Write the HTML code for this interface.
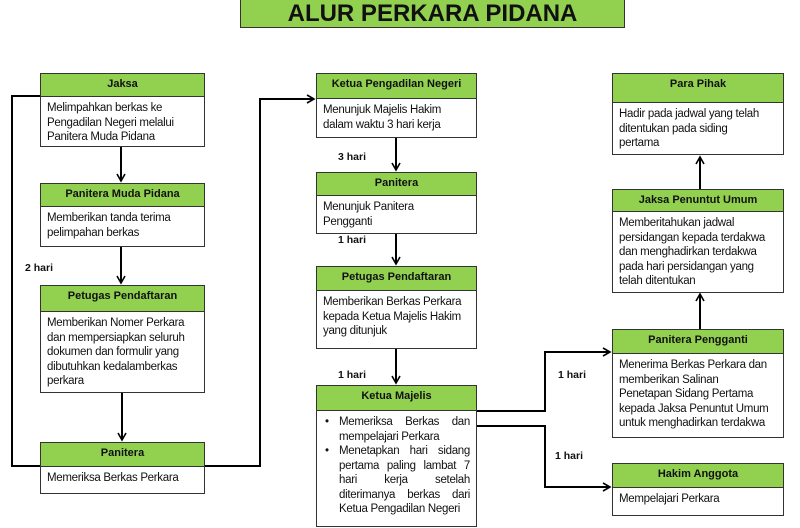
<!DOCTYPE html>
<html><head><meta charset="utf-8"><style>
*{margin:0;padding:0;box-sizing:border-box}
body{width:800px;height:528px;background:#fff;position:relative;overflow:hidden;font-family:"Liberation Sans",Arial,sans-serif;color:#111}
.b{position:absolute;border:1.5px solid #333;background:#fff}
.h{background:#92d050;border-bottom:1.5px solid #333;font-weight:bold;font-size:11px;text-align:center;padding-top:4px}
.t{font-size:11.5px;line-height:14.5px;padding:4px 6px;letter-spacing:-0.3px}
.n{white-space:nowrap}
.l{position:absolute;font-size:10.5px;font-weight:bold}
ul{list-style:none}
li{position:relative;padding-left:16px;text-align:justify}
li:before{content:"•";position:absolute;left:2px}
</style></head><body>
<div style="position:absolute;left:240px;top:-2px;width:385px;height:30px;background:#92d050;border:1.5px solid #333;text-align:center;font-weight:bold;font-size:24px;line-height:30px">ALUR PERKARA PIDANA</div>

<svg width="800" height="528" style="position:absolute;left:0;top:0">
<defs><marker id="a" markerWidth="10" markerHeight="10" refX="8" refY="5" orient="auto" markerUnits="userSpaceOnUse"><path d="M1,1 L8,5 L1,9" fill="none" stroke="#000" stroke-width="1.6"/></marker></defs>
<g stroke="#000" stroke-width="2" fill="none">
<path d="M40,96 H12 V466 H260 V99 H314" marker-end="url(#a)"/>
<path d="M121,146 V181" marker-end="url(#a)"/>
<path d="M121,246 V283" marker-end="url(#a)"/>
<path d="M122,392 V440" marker-end="url(#a)"/>
<path d="M396,137 V170" marker-end="url(#a)"/>
<path d="M396,233 V264" marker-end="url(#a)"/>
<path d="M396,348 V383" marker-end="url(#a)"/>
<path d="M476,411 H545 V352 H610" marker-end="url(#a)"/>
<path d="M476,426 H545 V487 H610" marker-end="url(#a)"/>
<path d="M700,329 V294" marker-end="url(#a)"/>
<path d="M700,189 V157" marker-end="url(#a)"/>
</g></svg>

<div class="b" style="left:40px;top:73px;width:165px;height:74px"><div class="h" style="height:23px">Jaksa</div><div class="t n">Melimpahkan berkas ke<br>Pengadilan Negeri melalui<br>Panitera Muda Pidana</div></div>
<div class="b" style="left:40px;top:183px;width:165px;height:64px"><div class="h" style="height:23px">Panitera Muda Pidana</div><div class="t n">Memberikan tanda terima<br>pelimpahan berkas</div></div>
<div class="b" style="left:40px;top:285px;width:165px;height:108px"><div class="h" style="height:26px">Petugas Pendaftaran</div><div class="t n">Memberikan Nomer Perkara<br>dan mempersiapkan seluruh<br>dokumen dan formulir yang<br>dibutuhkan kedalamberkas<br>perkara</div></div>
<div class="b" style="left:40px;top:442px;width:165px;height:52px"><div class="h" style="height:24px">Panitera</div><div class="t n">Memeriksa Berkas Perkara</div></div>

<div class="b" style="left:316px;top:73px;width:161px;height:65px"><div class="h" style="height:25px">Ketua Pengadilan Negeri</div><div class="t n">Menunjuk Majelis Hakim<br>dalam waktu 3 hari kerja</div></div>
<div class="b" style="left:316px;top:172px;width:161px;height:62px"><div class="h" style="height:23px">Panitera</div><div class="t n">Menunjuk Panitera<br>Pengganti</div></div>
<div class="b" style="left:316px;top:266px;width:161px;height:83px"><div class="h" style="height:24px">Petugas Pendaftaran</div><div class="t n">Memberikan Berkas Perkara<br>kepada Ketua Majelis Hakim<br>yang ditunjuk</div></div>
<div class="b" style="left:316px;top:385px;width:161px;height:142px"><div class="h" style="height:25px">Ketua Majelis</div><div class="t"><ul><li>Memeriksa Berkas dan mempelajari Perkara</li><li>Menetapkan hari sidang pertama paling lambat 7 hari kerja setelah diterimanya berkas dari Ketua Pengadilan Negeri</li></ul></div></div>

<div class="b" style="left:612px;top:73px;width:172px;height:82px"><div class="h" style="height:29px">Para Pihak</div><div class="t n">Hadir pada jadwal yang telah<br>ditentukan pada siding<br>pertama</div></div>
<div class="b" style="left:612px;top:189px;width:172px;height:104px"><div class="h" style="height:22px">Jaksa Penuntut Umum</div><div class="t n">Memberitahukan jadwal<br>persidangan kepada terdakwa<br>dan menghadirkan terdakwa<br>pada hari persidangan yang<br>telah ditentukan</div></div>
<div class="b" style="left:612px;top:329px;width:172px;height:109px"><div class="h" style="height:24px">Panitera Pengganti</div><div class="t n">Menerima Berkas Perkara dan<br>memberikan Salinan<br>Penetapan Sidang Pertama<br>kepada Jaksa Penuntut Umum<br>untuk menghadirkan terdakwa</div></div>
<div class="b" style="left:612px;top:463px;width:172px;height:53px"><div class="h" style="height:24px">Hakim Anggota</div><div class="t n">Mempelajari Perkara</div></div>

<div class="l" style="left:25px;top:262px">2 hari</div>
<div class="l" style="left:338px;top:151px">3 hari</div>
<div class="l" style="left:338px;top:234px">1 hari</div>
<div class="l" style="left:338px;top:369px">1 hari</div>
<div class="l" style="left:558px;top:369px">1 hari</div>
<div class="l" style="left:555px;top:450px">1 hari</div>
</body></html>
